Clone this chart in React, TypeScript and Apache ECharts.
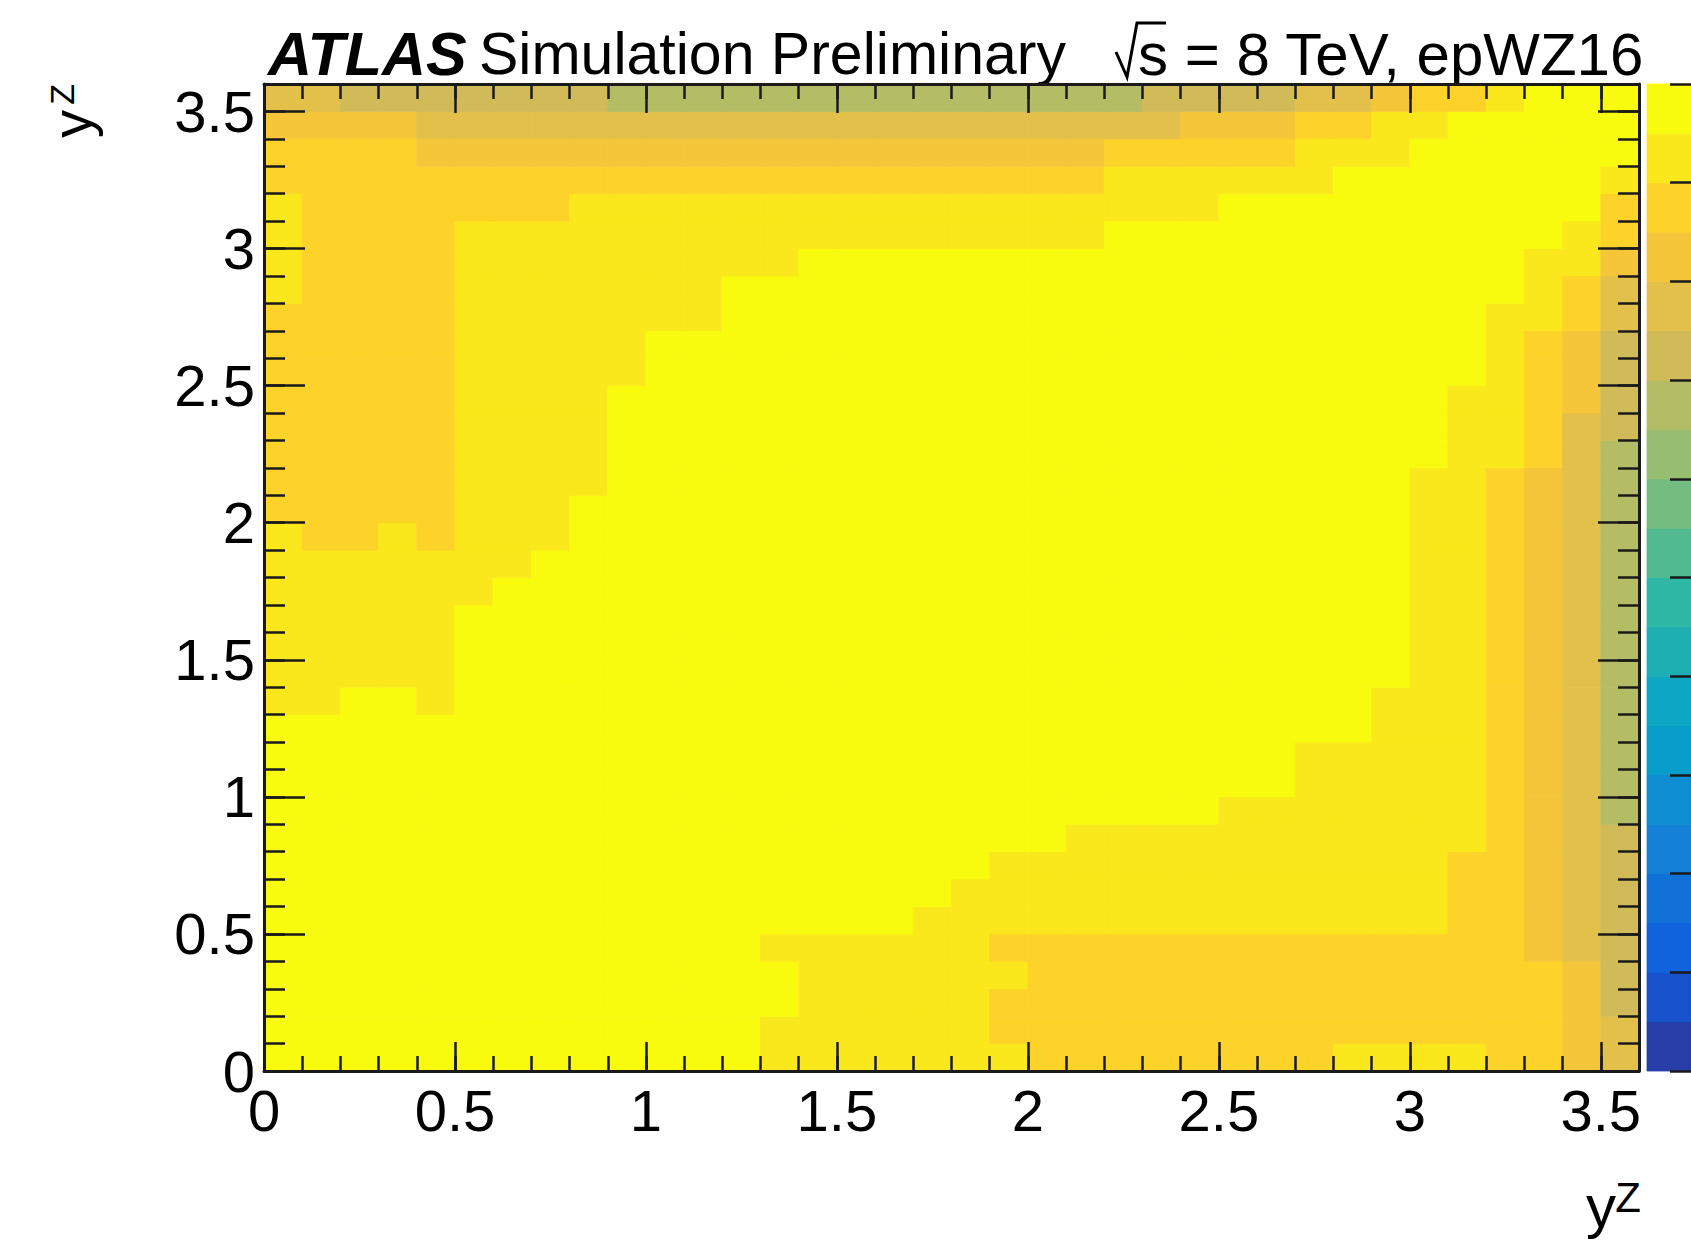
import { useEffect, useRef } from "react";
import * as echarts from "echarts";

// Binning shared by both axes: 36 bins of width 0.1 between 0 and 3.6
const BIN_WIDTH = 0.1;
const AXIS_MIN = 0;
const AXIS_MAX = 3.6;
const MAJOR_STEP = 0.5;
const MINOR_STEP = 0.1;

// ROOT "kBird" palette, cut into 20 contour levels (level 0 = lowest, 19 = highest)
const N_CONTOURS = 20;
const birdStops = [0.0, 0.125, 0.25, 0.375, 0.5, 0.625, 0.75, 0.875, 1.0];
const birdRed = [0.2082, 0.0592, 0.078, 0.0232, 0.1802, 0.5301, 0.8186, 0.9956, 0.9764];
const birdGreen = [0.1664, 0.3599, 0.5041, 0.6419, 0.7178, 0.7492, 0.7328, 0.7862, 0.9832];
const birdBlue = [0.5293, 0.8684, 0.8385, 0.7914, 0.6425, 0.4662, 0.3499, 0.1968, 0.0539];

// Contour level of every bin, one array per y bin (x bins 0.0-0.1 ... 3.5-3.6, left to right)
const yBin35 = [15, 15, 14, 14, 14, 14, 14, 14, 14, 13, 13, 13, 13, 13, 13, 13, 13, 13, 13, 13, 13, 13, 13, 14, 14, 14, 14, 15, 15, 16, 17, 17, 18, 19, 19, 19];
const yBin34 = [16, 16, 16, 16, 15, 15, 15, 15, 15, 15, 15, 15, 15, 15, 15, 15, 15, 15, 15, 15, 15, 15, 15, 15, 16, 16, 16, 17, 17, 18, 18, 19, 19, 19, 19, 19];
const yBin33 = [17, 17, 17, 17, 16, 16, 16, 16, 16, 16, 16, 16, 16, 16, 16, 16, 16, 16, 16, 16, 16, 16, 17, 17, 17, 17, 17, 18, 18, 18, 19, 19, 19, 19, 19, 19];
const yBin32 = [17, 17, 17, 17, 17, 17, 17, 17, 17, 17, 17, 17, 17, 17, 17, 17, 17, 17, 17, 17, 17, 17, 18, 18, 18, 18, 18, 18, 19, 19, 19, 19, 19, 19, 19, 18];
const yBin31 = [18, 17, 17, 17, 17, 17, 17, 17, 18, 18, 18, 18, 18, 18, 18, 18, 18, 18, 18, 18, 18, 18, 18, 18, 18, 19, 19, 19, 19, 19, 19, 19, 19, 19, 19, 17];
const yBin30 = [18, 17, 17, 17, 17, 18, 18, 18, 18, 18, 18, 18, 18, 18, 18, 18, 18, 18, 18, 18, 18, 18, 19, 19, 19, 19, 19, 19, 19, 19, 19, 19, 19, 19, 18, 17];
const yBin29 = [18, 17, 17, 17, 17, 18, 18, 18, 18, 18, 18, 18, 18, 18, 19, 19, 19, 19, 19, 19, 19, 19, 19, 19, 19, 19, 19, 19, 19, 19, 19, 19, 19, 18, 18, 16];
const yBin28 = [18, 17, 17, 17, 17, 18, 18, 18, 18, 18, 18, 18, 19, 19, 19, 19, 19, 19, 19, 19, 19, 19, 19, 19, 19, 19, 19, 19, 19, 19, 19, 19, 19, 18, 17, 15];
const yBin27 = [17, 17, 17, 17, 17, 18, 18, 18, 18, 18, 18, 18, 19, 19, 19, 19, 19, 19, 19, 19, 19, 19, 19, 19, 19, 19, 19, 19, 19, 19, 19, 19, 18, 18, 17, 15];
const yBin26 = [17, 17, 17, 17, 17, 18, 18, 18, 18, 18, 19, 19, 19, 19, 19, 19, 19, 19, 19, 19, 19, 19, 19, 19, 19, 19, 19, 19, 19, 19, 19, 19, 18, 17, 16, 14];
const yBin25 = [17, 17, 17, 17, 17, 18, 18, 18, 18, 18, 19, 19, 19, 19, 19, 19, 19, 19, 19, 19, 19, 19, 19, 19, 19, 19, 19, 19, 19, 19, 19, 19, 18, 17, 16, 14];
const yBin24 = [17, 17, 17, 17, 17, 18, 18, 18, 18, 19, 19, 19, 19, 19, 19, 19, 19, 19, 19, 19, 19, 19, 19, 19, 19, 19, 19, 19, 19, 19, 19, 18, 18, 17, 16, 14];
const yBin23 = [17, 17, 17, 17, 17, 18, 18, 18, 18, 19, 19, 19, 19, 19, 19, 19, 19, 19, 19, 19, 19, 19, 19, 19, 19, 19, 19, 19, 19, 19, 19, 18, 18, 17, 15, 14];
const yBin22 = [17, 17, 17, 17, 17, 18, 18, 18, 18, 19, 19, 19, 19, 19, 19, 19, 19, 19, 19, 19, 19, 19, 19, 19, 19, 19, 19, 19, 19, 19, 19, 18, 18, 17, 15, 13];
const yBin21 = [17, 17, 17, 17, 17, 18, 18, 18, 18, 19, 19, 19, 19, 19, 19, 19, 19, 19, 19, 19, 19, 19, 19, 19, 19, 19, 19, 19, 19, 19, 18, 18, 17, 16, 15, 13];
const yBin20 = [17, 17, 17, 17, 17, 18, 18, 18, 19, 19, 19, 19, 19, 19, 19, 19, 19, 19, 19, 19, 19, 19, 19, 19, 19, 19, 19, 19, 19, 19, 18, 18, 17, 16, 15, 13];
const yBin19 = [18, 17, 17, 18, 17, 18, 18, 18, 19, 19, 19, 19, 19, 19, 19, 19, 19, 19, 19, 19, 19, 19, 19, 19, 19, 19, 19, 19, 19, 19, 18, 18, 17, 16, 15, 13];
const yBin18 = [18, 18, 18, 18, 18, 18, 18, 19, 19, 19, 19, 19, 19, 19, 19, 19, 19, 19, 19, 19, 19, 19, 19, 19, 19, 19, 19, 19, 19, 19, 18, 18, 17, 16, 15, 13];
const yBin17 = [18, 18, 18, 18, 18, 18, 19, 19, 19, 19, 19, 19, 19, 19, 19, 19, 19, 19, 19, 19, 19, 19, 19, 19, 19, 19, 19, 19, 19, 19, 18, 18, 17, 16, 15, 13];
const yBin16 = [18, 18, 18, 18, 18, 19, 19, 19, 19, 19, 19, 19, 19, 19, 19, 19, 19, 19, 19, 19, 19, 19, 19, 19, 19, 19, 19, 19, 19, 19, 18, 18, 17, 16, 15, 13];
const yBin15 = [18, 18, 18, 18, 18, 19, 19, 19, 19, 19, 19, 19, 19, 19, 19, 19, 19, 19, 19, 19, 19, 19, 19, 19, 19, 19, 19, 19, 19, 19, 18, 18, 17, 16, 15, 13];
const yBin14 = [18, 18, 18, 18, 18, 19, 19, 19, 19, 19, 19, 19, 19, 19, 19, 19, 19, 19, 19, 19, 19, 19, 19, 19, 19, 19, 19, 19, 19, 19, 18, 18, 17, 16, 15, 13];
const yBin13 = [18, 18, 19, 19, 18, 19, 19, 19, 19, 19, 19, 19, 19, 19, 19, 19, 19, 19, 19, 19, 19, 19, 19, 19, 19, 19, 19, 19, 19, 18, 18, 18, 17, 16, 15, 13];
const yBin12 = [19, 19, 19, 19, 19, 19, 19, 19, 19, 19, 19, 19, 19, 19, 19, 19, 19, 19, 19, 19, 19, 19, 19, 19, 19, 19, 19, 19, 19, 18, 18, 18, 17, 16, 15, 13];
const yBin11 = [19, 19, 19, 19, 19, 19, 19, 19, 19, 19, 19, 19, 19, 19, 19, 19, 19, 19, 19, 19, 19, 19, 19, 19, 19, 19, 19, 18, 18, 18, 18, 18, 17, 16, 15, 13];
const yBin10 = [19, 19, 19, 19, 19, 19, 19, 19, 19, 19, 19, 19, 19, 19, 19, 19, 19, 19, 19, 19, 19, 19, 19, 19, 19, 19, 19, 18, 18, 18, 18, 18, 17, 16, 15, 13];
const yBin09 = [19, 19, 19, 19, 19, 19, 19, 19, 19, 19, 19, 19, 19, 19, 19, 19, 19, 19, 19, 19, 19, 19, 19, 19, 19, 18, 18, 18, 18, 18, 18, 18, 17, 16, 15, 13];
const yBin08 = [19, 19, 19, 19, 19, 19, 19, 19, 19, 19, 19, 19, 19, 19, 19, 19, 19, 19, 19, 19, 19, 18, 18, 18, 18, 18, 18, 18, 18, 18, 18, 18, 17, 16, 15, 14];
const yBin07 = [19, 19, 19, 19, 19, 19, 19, 19, 19, 19, 19, 19, 19, 19, 19, 19, 19, 19, 19, 18, 18, 18, 18, 18, 18, 18, 18, 18, 18, 18, 18, 17, 17, 16, 15, 14];
const yBin06 = [19, 19, 19, 19, 19, 19, 19, 19, 19, 19, 19, 19, 19, 19, 19, 19, 19, 19, 18, 18, 18, 18, 18, 18, 18, 18, 18, 18, 18, 18, 18, 17, 17, 16, 15, 14];
const yBin05 = [19, 19, 19, 19, 19, 19, 19, 19, 19, 19, 19, 19, 19, 19, 19, 19, 19, 18, 18, 18, 18, 18, 18, 18, 18, 18, 18, 18, 18, 18, 18, 17, 17, 16, 15, 14];
const yBin04 = [19, 19, 19, 19, 19, 19, 19, 19, 19, 19, 19, 19, 19, 18, 18, 18, 18, 18, 18, 17, 17, 17, 17, 17, 17, 17, 17, 17, 17, 17, 17, 17, 17, 16, 15, 14];
const yBin03 = [19, 19, 19, 19, 19, 19, 19, 19, 19, 19, 19, 19, 19, 19, 18, 18, 18, 18, 18, 18, 17, 17, 17, 17, 17, 17, 17, 17, 17, 17, 17, 17, 17, 17, 16, 14];
const yBin02 = [19, 19, 19, 19, 19, 19, 19, 19, 19, 19, 19, 19, 19, 19, 18, 18, 18, 18, 18, 17, 17, 17, 17, 17, 17, 17, 17, 17, 17, 17, 17, 17, 17, 17, 16, 14];
const yBin01 = [19, 19, 19, 19, 19, 19, 19, 19, 19, 19, 19, 19, 19, 18, 18, 18, 18, 18, 18, 17, 17, 17, 17, 17, 17, 17, 17, 17, 17, 17, 17, 17, 17, 17, 16, 15];
const yBin00 = [19, 19, 19, 19, 19, 19, 19, 19, 19, 19, 19, 19, 19, 18, 18, 18, 18, 18, 18, 18, 17, 17, 17, 17, 17, 17, 17, 17, 18, 18, 18, 18, 17, 17, 16, 15];

// y bins ordered from the lowest (y = 0.0-0.1) upwards
const yBins = [
  yBin00, yBin01, yBin02, yBin03, yBin04, yBin05, yBin06, yBin07, yBin08, yBin09,
  yBin10, yBin11, yBin12, yBin13, yBin14, yBin15, yBin16, yBin17, yBin18, yBin19,
  yBin20, yBin21, yBin22, yBin23, yBin24, yBin25, yBin26, yBin27, yBin28, yBin29,
  yBin30, yBin31, yBin32, yBin33, yBin34, yBin35,
];

// Palette axis: one band per contour level
const paletteLevels = [0, 1, 2, 3, 4, 5, 6, 7, 8, 9, 10, 11, 12, 13, 14, 15, 16, 17, 18, 19];

function birdColor(f: number): string {
  let s = 0;
  while (s < birdStops.length - 2 && f > birdStops[s + 1]) s++;
  const t = (f - birdStops[s]) / (birdStops[s + 1] - birdStops[s]);
  const mix = (a: number[]) => Math.round(255 * (a[s] + (a[s + 1] - a[s]) * t));
  const hex = (v: number) => v.toString(16).padStart(2, "0");
  return "#" + hex(mix(birdRed)) + hex(mix(birdGreen)) + hex(mix(birdBlue));
}

// ROOT picks the colour of level k at index int((k + 0.99) * 255 / 20) of a 255-colour gradient
const contourColors = paletteLevels.map((k) => {
  const idx = Math.min(254, Math.floor(((k + 0.99) * 255) / N_CONTOURS));
  return birdColor(idx / 254);
});

const FONT = "'Liberation Sans', Arial, Helvetica, sans-serif";
const INK = "#1a1a1a";
const LABEL_SIZE = 58;

export default function App() {
  const ref = useRef<HTMLDivElement>(null);

  useEffect(() => {
    if (!ref.current) return;
    const chart = echarts.init(ref.current, undefined, { renderer: "svg" });

    const cells: number[][] = [];
    yBins.forEach((row, j) => {
      row.forEach((level, i) => {
        cells.push([i * BIN_WIDTH, j * BIN_WIDTH, level]);
      });
    });

    const frameLine = { show: true, onZero: false, lineStyle: { color: INK, width: 3 } };
    const noLine = { show: false, onZero: false };
    const tickStyle = { color: INK, width: 2.5 };

    const baseValueAxis = {
      type: "value" as const,
      gridIndex: 0,
      min: AXIS_MIN,
      max: AXIS_MAX,
      z: 10,
      splitLine: { show: false },
    };

    const tickLabel = (show: boolean, margin: number) => ({
      show,
      fontSize: LABEL_SIZE,
      fontFamily: FONT,
      color: "#000",
      margin,
      showMaxLabel: false,
    });

    const majorX = (position: "bottom" | "top", labels: boolean) => ({
      ...baseValueAxis,
      position,
      interval: MAJOR_STEP,
      axisLine: frameLine,
      axisTick: { show: true, inside: true, length: 29, lineStyle: tickStyle },
      axisLabel: tickLabel(labels, 10),
    });
    const minorX = (position: "bottom" | "top") => ({
      ...baseValueAxis,
      position,
      interval: MINOR_STEP,
      axisLine: noLine,
      axisTick: { show: true, inside: true, length: 15, lineStyle: tickStyle },
      axisLabel: { show: false },
    });
    const majorY = (position: "left" | "right", labels: boolean) => ({
      ...baseValueAxis,
      position,
      interval: MAJOR_STEP,
      axisLine: frameLine,
      axisTick: { show: true, inside: true, length: 41, lineStyle: tickStyle },
      axisLabel: tickLabel(labels, 9),
    });
    const minorY = (position: "left" | "right") => ({
      ...baseValueAxis,
      position,
      interval: MINOR_STEP,
      axisLine: noLine,
      axisTick: { show: true, inside: true, length: 21, lineStyle: tickStyle },
      axisLabel: { show: false },
    });

    const textStyle = (text: string, size: number, extra: Record<string, unknown> = {}) => ({
      text,
      fontSize: size,
      fontFamily: FONT,
      fill: "#000",
      align: "left",
      verticalAlign: "middle",
      ...extra,
    });

    chart.setOption({
      animation: false,
      backgroundColor: "#ffffff",
      grid: [
        { left: 264, top: 84, width: 1375, height: 987 },
        { left: 1647, top: 84, width: 56, height: 987 },
      ],
      xAxis: [
        majorX("bottom", true),
        minorX("bottom"),
        majorX("top", false),
        minorX("top"),
        { type: "value", gridIndex: 1, min: 0, max: 1, show: false, axisLine: noLine },
      ],
      yAxis: [
        majorY("left", true),
        minorY("left"),
        majorY("right", false),
        minorY("right"),
        {
          type: "value",
          gridIndex: 1,
          min: 0,
          max: N_CONTOURS,
          interval: 2,
          position: "right",
          z: 10,
          axisLine: noLine,
          axisTick: { show: true, inside: true, length: 21, lineStyle: { color: INK, width: 2.5 } },
          axisLabel: { show: false },
          splitLine: { show: false },
        },
      ],
      visualMap: {
        type: "piecewise",
        show: false,
        dimension: 2,
        seriesIndex: [0, 1],
        pieces: contourColors.map((color, k) => ({ value: k, color })),
      },
      series: [
        {
          type: "custom",
          name: "bins",
          xAxisIndex: 0,
          yAxisIndex: 0,
          clip: true,
          data: cells,
          renderItem: (_params: any, api: any) => {
            const x0 = api.value(0);
            const y0 = api.value(1);
            const p0 = api.coord([x0, y0]);
            const p1 = api.coord([x0 + BIN_WIDTH, y0 + BIN_WIDTH]);
            const color = api.visual("color");
            return {
              type: "rect",
              shape: { x: p0[0], y: p1[1], width: p1[0] - p0[0], height: p0[1] - p1[1] },
              style: { fill: color, stroke: color, lineWidth: 0.8 },
            };
          },
        },
        {
          type: "custom",
          name: "palette",
          xAxisIndex: 4,
          yAxisIndex: 4,
          data: paletteLevels.map((k) => [0, k, k]),
          renderItem: (_params: any, api: any) => {
            const k = api.value(1);
            const p0 = api.coord([0, k]);
            const p1 = api.coord([1, k + 1]);
            const color = api.visual("color");
            return {
              type: "rect",
              shape: { x: p0[0], y: p1[1], width: p1[0] - p0[0], height: p0[1] - p1[1] },
              style: { fill: color, stroke: color, lineWidth: 0.8 },
            };
          },
        },
      ],
      graphic: [
        {
          type: "text",
          x: 268,
          y: 54,
          style: textStyle("ATLAS", 61, { fontWeight: "bold", fontStyle: "italic" }),
        },
        { type: "text", x: 479, y: 54, style: textStyle("Simulation Preliminary", 59) },
        {
          type: "polyline",
          shape: { points: [[1116, 52], [1127, 77], [1137, 23], [1166, 23]] },
          style: { stroke: "#000", lineWidth: 3, fill: null },
        },
        { type: "text", x: 1138, y: 54, style: textStyle("s = 8 TeV, epWZ16", 60) },
        // vertical axis title y^Z
        {
          type: "text",
          x: 71,
          y: 110,
          rotation: Math.PI / 2,
          style: textStyle("y", 56, { align: "right" }),
        },
        {
          type: "text",
          x: 62,
          y: 84,
          rotation: Math.PI / 2,
          style: textStyle("Z", 34, { align: "right" }),
        },
        // horizontal axis title y^Z
        { type: "text", x: 1616, y: 1206, style: textStyle("y", 60, { align: "right" }) },
        { type: "text", x: 1641, y: 1197, style: textStyle("Z", 42, { align: "right" }) },
      ],
    });

    return () => chart.dispose();
  }, []);

  return (
    <div
      ref={ref}
      style={{ position: "fixed", left: 0, top: 0, width: 1691, height: 1243, background: "#fff" }}
    />
  );
}
